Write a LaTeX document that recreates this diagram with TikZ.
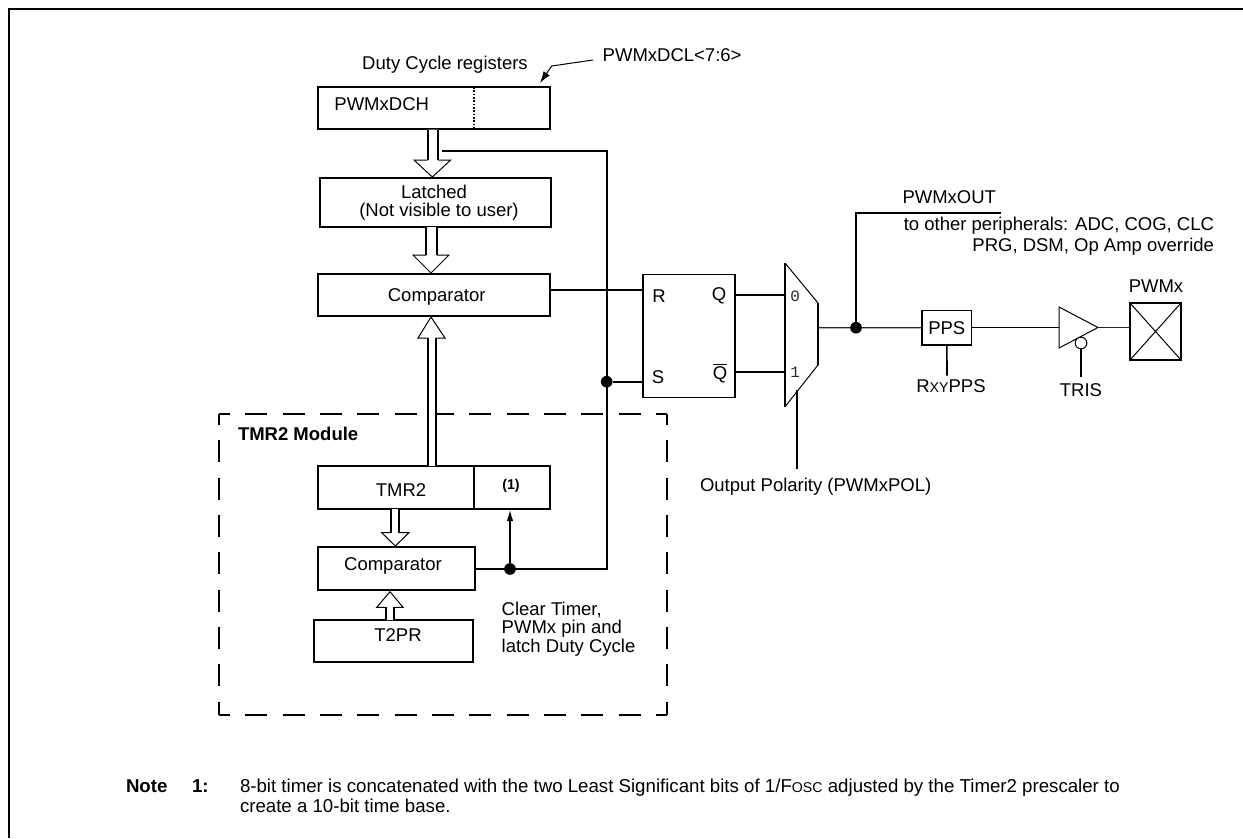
\documentclass[tikz,border=0pt]{standalone}
\usepackage{fontspec}
\setmainfont{Liberation Sans}
\setmonofont{Liberation Mono}
\usetikzlibrary{arrows.meta}
\newcommand{\blockarrow}[8]{%
  \fill[white] (#1,#3)--(#1,#4)--(#5,#4)--(#7,#8)--(#6,#4)--(#2,#4)--(#2,#3)--cycle;
  \draw[stemline] (#1,#3)--(#1,#4) (#2,#3)--(#2,#4);
  \draw[headline] (#1,#4)--(#5,#4)--(#7,#8)--(#6,#4)--(#2,#4);
}
\tikzset{
  x=0.6pt,y=-0.6pt,
  every node/.style={inner sep=0pt,outer sep=0pt,font=\fontsize{11.1}{13.2}\selectfont},
  boxn/.style={draw,line width=1pt,fill=white,rectangle},
  wire/.style={line width=1pt},
  midw/.style={line width=0.8pt,draw=black!85},
  thinw/.style={line width=0.6pt},
  stemline/.style={line width=1pt},
  headline/.style={line width=0.6pt,line join=miter},
  dashframe/.style={line width=1pt,dash pattern=on 13.2pt off 9.2pt,dash phase=6.6pt},
  jdot/.style={circle,fill=black,minimum size=7pt},
  muxnum/.style={font=\ttfamily\fontsize{9.5}{11}\selectfont,text=black!85}
}
\begin{document}
\begin{tikzpicture}
\useasboundingbox (0,0) rectangle (1243,838);
\fill[white] (0,0) rectangle (1243,838);
% frame
\coordinate (fo) at (9,9);
\coordinate (fr) at (1243,9);
\coordinate (fb) at (9,838);
\draw[line width=1.2pt,line join=miter] (fr)--(fo)--(fb);
% dashed module
\coordinate (dtl) at (219,414);
\coordinate (dtr) at (667,414);
\coordinate (dbl) at (219,715);
\coordinate (dbr) at (667,715);
\draw[dashframe] (dtl)--(dtr);
\draw[dashframe] (dtl)--(dbl);
\draw[dashframe] (dtr)--(dbr);
\draw[dashframe] (dbl)--(dbr);
% boxes
\node[boxn,minimum width=139.5pt,minimum height=25.5pt] (dch) at (434,108) {};
\node[boxn,minimum width=138.6pt,minimum height=29.4pt] (lat) at (435.5,202.2) {};
\node[boxn,minimum width=139.5pt,minimum height=25.2pt] (cmpa) at (434,295) {};
\node[boxn,minimum width=55.2pt,minimum height=73.8pt] (ff) at (689,336) {};
\node[boxn,minimum width=139.2pt,minimum height=25.8pt] (tmr) at (434,487.3) {};
\node[boxn,minimum width=94.2pt,minimum height=25.8pt] (cmpb) at (396.5,568.3) {};
\node[boxn,minimum width=95.6pt,minimum height=25.2pt] (tpr) at (393.5,641) {};
\node[boxn,minimum width=29.8pt,minimum height=20.6pt] (pps) at (946.8,327.8) {};
\node[boxn,minimum width=30.6pt,minimum height=34.2pt] (pad) at (1155.5,331.5) {};
\coordinate (tdiv) at (474,466);
\draw[wire] (tdiv) -- (tdiv|-tmr.south);
\draw[line width=1pt,densely dotted] (474,87) -- (474,129);
\draw[thinw] (pad.north west)--(pad.south east) (pad.north east)--(pad.south west);
% block arrows
\blockarrow{427.7}{438.3}{129.5}{160}{414}{450.7}{432.3}{177}
\blockarrow{426}{437}{227}{255}{413}{449}{431}{273}
\blockarrow{428.3}{435.7}{466}{338}{418}{445}{431}{317}
\blockarrow{390.7}{399}{509}{532.7}{381.7}{409}{395.3}{546}
\blockarrow{386}{394}{620}{607.3}{376.7}{403}{390}{591.7}
% wires
\coordinate (lb) at (442,151);
\coordinate (vt) at (606.7,151);
\coordinate (vb) at (606.7,569);
\coordinate (rl) at (600,289.7);
\coordinate (sl) at (600,381.7);
\coordinate (cb) at (510,569);
\coordinate (tcell) at (510,509.5);
\draw[wire,line join=miter] (lb)--(vt)--(vb)--(cmpb.east|-vb);
\draw[wire] (cmpa.east|-rl)--(ff.west|-rl);
\node[jdot] (d1) at (vt|-sl) {};
\draw[wire] (d1)--(ff.west|-sl);
\node[jdot] (d2) at (cb) {};
\draw[wire,-{Latex[length=7pt,width=4pt]}] (d2)--(tcell);
% mux
\coordinate (ma) at (785,263);
\coordinate (mb) at (818,303);
\coordinate (mc) at (818,365);
\coordinate (md) at (785,406.7);
\draw[wire,line join=miter] (mb)--(mc) (ma)--(md);
\draw[thinw] (ma)--(mb) (mc)--(md);
\coordinate (ql) at (700,294.7);
\coordinate (qb) at (700,371.7);
\draw[wire] (ff.east|-ql)--(ma|-ql);
\draw[wire] (ff.east|-qb)--(ma|-qb);
\node[muxnum] (m0) at (795,296) {0};
\node[muxnum] (m1) at (795,372) {1};
\coordinate (pa) at (797,390);
\coordinate (pb) at (797,469);
\draw[wire] (pa)--(pb);
% output
\coordinate (ol) at (818,327.7);
\node[jdot] (d3) at (856,327.7) {};
\coordinate (ou) at (856,212.7);
\coordinate (oe) at (1001,212.7);
\draw[wire,line join=miter] (d3)--(ou)--(oe);
\draw[midw] (ol)--(d3)--(pps.west);
% buffer
\coordinate (ta) at (1059,307);
\coordinate (tb) at (1059,348);
\coordinate (tc) at (1098,327.5);
\draw[thinw,line join=miter] (ta)--(tb)--(tc)--cycle;
\draw[thinw] (pps.east)--(ta|-pps.east);
\draw[midw] (tc)--(pad.west|-tc);
\node[draw,thinw,fill=white,circle,minimum size=7pt] (bub) at (1081,343) {};
\coordinate (be) at (1081,377);
\draw[wire] (bub)--(be);
\coordinate (pe) at (947,375.7);
\draw[wire] (pps.south)--(pe);
% PWMxDCL pointer
\coordinate (la) at (593,60);
\coordinate (lm) at (551.7,66);
\coordinate (lt) at (540,83);
\draw[thinw,-{Latex[length=7pt,width=4.5pt]}] (la)--(lm)--(lt);
% texts
\node (t1) at (445,64.3) {Duty Cycle registers};
\node[anchor=west] (t2) at (602.7,55.3) {PWMxDCL<7:6>};
\node (t3) at (381.7,104) {PWMxDCH};
\node (t4) at (434,191.7) {Latched};
\node (t5) at (439,211.7) {(Not visible to user)};
\node (t6) at (436.7,296.7) {Comparator};
\node (t7) at (659,296) {R};
\node (t8) at (719,296) {Q};
\node (t9) at (658,377) {S};
\node (t10) at (720,373.5) {\ensuremath{\overline{\hbox{Q}}}};
\node[anchor=east] (t11) at (996,196.7) {PWMxOUT};
\node[anchor=east] (t12) at (1214,226) {to other peripherals: ADC, COG, CLC};
\node[anchor=east] (t13) at (1214,246.7) {PRG, DSM, Op Amp override};
\node (t14) at (946.8,328) {PPS};
\node (t15) at (951,386) {R{\fontsize{8.5}{10}\selectfont XY}PPS};
\node (t16) at (1081,390) {TRIS};
\node (t17) at (1156,286) {PWMx};
\node[anchor=west] (t18) at (700,486.7) {Output Polarity (PWMxPOL)};
\node[anchor=west,font=\bfseries\fontsize{11.1}{13.2}\selectfont] (t19) at (238,434) {TMR2 Module};
\node (t20) at (401,490) {TMR2};
\node[font=\bfseries\fontsize{8.5}{10}\selectfont] (t21) at (511,486) {(1)};
\node (t22) at (393,565.7) {Comparator};
\node (t23) at (398,635) {T2PR};
\node[anchor=west] (t24) at (501.7,610) {Clear Timer,};
\node[anchor=west] (t25) at (501.7,629) {PWMx pin and};
\node[anchor=west] (t26) at (501.7,648) {latch Duty Cycle};
\node[anchor=base west,font=\bfseries\fontsize{11.2}{13.2}\selectfont] (n1) at (126,792) {Note};
\node[anchor=base west,font=\bfseries\fontsize{11.2}{13.2}\selectfont] (n2) at (192,792) {1:};
\node[anchor=base west,font=\fontsize{11.2}{13.2}\selectfont] (n3) at (240,792) {8-bit timer is concatenated with the two Least Significant bits of 1/F{\fontsize{8.5}{10}\selectfont OSC} adjusted by the Timer2 prescaler to};
\node[anchor=base west,font=\fontsize{11.2}{13.2}\selectfont] (n4) at (240,812.5) {create a 10-bit time base.};
\end{tikzpicture}
\end{document}
